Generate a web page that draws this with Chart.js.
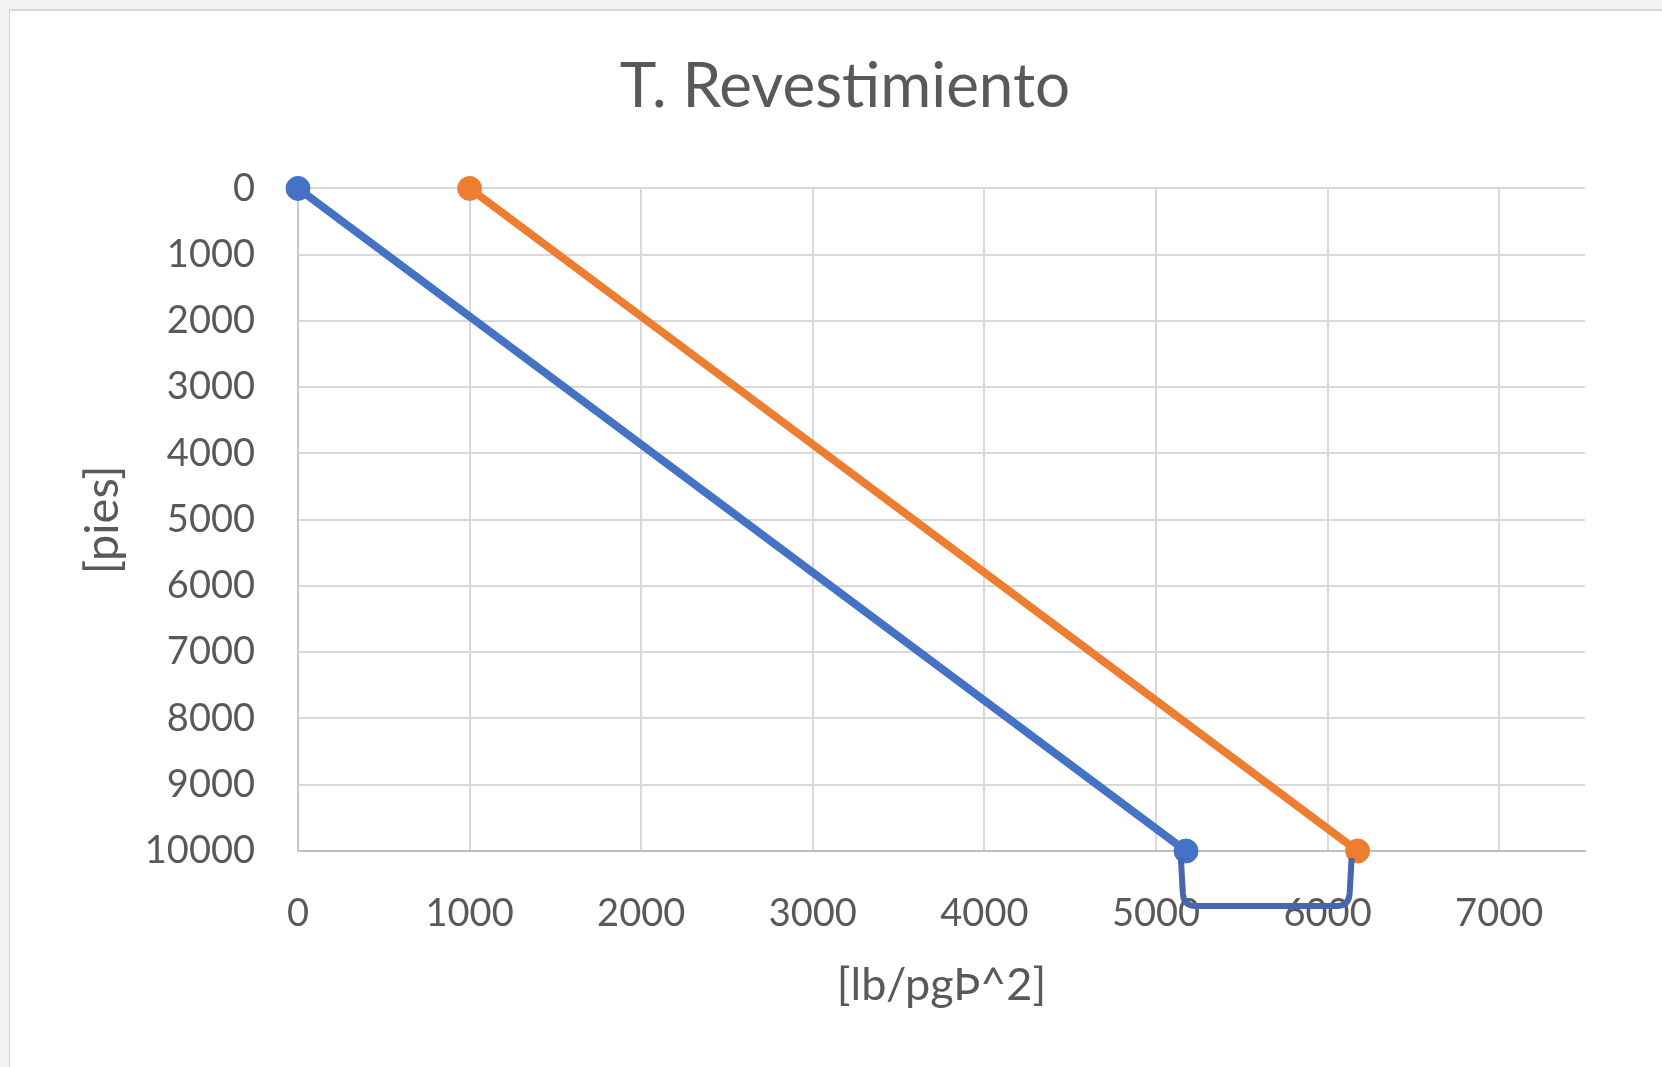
<!DOCTYPE html>
<html>
<head>
<meta charset="utf-8">
<script src="https://cdn.jsdelivr.net/npm/chart.js@4.4.1/dist/chart.umd.min.js"></script>
<style>
  body { margin: 0; background: #f2f2f2; }
  #card { position: absolute; left: 9px; top: 9px; width: 1700px; height: 1100px; background: #fff; border-left: 1px solid #d6d6d6; border-top: 2px solid #d6d6d6; }
  #myChart { position: absolute; left: 0; top: 0; }
</style>
</head>
<body>
<div id="card"></div>
<canvas id="myChart" width="1662" height="1067"></canvas>
<script>
const titulo = 'T. Revestimiento';
const ejeX = '[lb/pgÞ^2]';
const ejeY = '[pies]';

const profundidad = [0, 10000];
const presionAzul = [0, 5175];
const presionNaranja = [1000, 6175];

const xTicks = [0, 1000, 2000, 3000, 4000, 5000, 6000, 7000];
const xMax = 7500;
const yTicks = [0, 1000, 2000, 3000, 4000, 5000, 6000, 7000, 8000, 9000, 10000];

// llave dibujada a mano bajo el eje (de 5145 a 6140)
const llaveX = [5145, 6140];

const fuente = 'Lato, "Open Sans", sans-serif';
const gris = '#595959';

const llavePlugin = {
  id: 'llave',
  afterDatasetsDraw(chart) {
    const ctx = chart.ctx;
    const x = chart.scales.x;
    const l = x.getPixelForValue(llaveX[0]);
    const r = x.getPixelForValue(llaveX[1]);
    const t = chart.chartArea.bottom + 7;
    const b = chart.chartArea.bottom + 55;
    ctx.save();
    ctx.strokeStyle = '#4666b0';
    ctx.lineWidth = 6;
    ctx.lineJoin = 'round';
    ctx.beginPath();
    ctx.moveTo(l, t);
    ctx.lineTo(l + 2, b - 12);
    ctx.quadraticCurveTo(l + 3, b, l + 15, b);
    ctx.lineTo(r - 15, b);
    ctx.quadraticCurveTo(r - 3, b, r - 2, b - 12);
    ctx.lineTo(r, t);
    ctx.stroke();
    ctx.restore();
  }
};

function serie(xs, color) {
  return {
    data: xs.map((v, i) => ({ x: v, y: profundidad[i] })),
    borderColor: color,
    backgroundColor: color,
    borderWidth: 8,
    pointRadius: 12,
    pointBorderWidth: 1,
    showLine: true,
    clip: false
  };
}

const ctx = document.getElementById('myChart').getContext('2d');
new Chart(ctx, {
  type: 'scatter',
  data: { datasets: [serie(presionAzul, '#4472c4'), serie(presionNaranja, '#ed7d31')] },
  plugins: [llavePlugin],
  options: {
    responsive: false,
    animation: false,
    layout: { padding: { left: 28, right: 0, top: 0, bottom: 0 } },
    plugins: {
      legend: { display: false },
      tooltip: { enabled: false },
      title: {
        display: true,
        text: titulo,
        color: gris,
        font: { family: fuente, size: 62, weight: 'normal' },
        padding: { top: 50, bottom: 64 }
      }
    },
    scales: {
      x: {
        type: 'linear',
        min: 0,
        max: xMax,
        afterBuildTicks: s => { s.ticks = xTicks.map(v => ({ value: v })); },
        afterFit: s => { s.height = 216; },
        grid: { color: '#d9d9d9', lineWidth: 2, drawTicks: false },
        border: { color: '#bfbfbf', width: 2 },
        ticks: { color: gris, font: { family: fuente, size: 38 }, padding: 40, maxRotation: 0, callback: v => String(v) },
        title: { display: true, text: ejeX, color: gris, font: { family: fuente, size: 45 }, padding: { top: 55, bottom: 55 } }
      },
      y: {
        type: 'linear',
        reverse: true,
        min: 0,
        max: 10000,
        afterBuildTicks: s => { s.ticks = yTicks.map(v => ({ value: v })); },
        afterFit: s => { s.width = 270; },
        grid: { color: '#d9d9d9', lineWidth: 2, drawTicks: false },
        border: { color: '#c8c8c8', width: 2 },
        ticks: { color: gris, font: { family: fuente, size: 38 }, padding: 43, callback: v => String(v) },
        title: { display: true, text: ejeY, color: gris, font: { family: fuente, size: 47 }, padding: { top: 47, bottom: 47 } }
      },
      derecha: {
        type: 'linear',
        position: 'right',
        afterFit: s => { s.width = 77; },
        grid: { display: false },
        border: { display: false },
        ticks: { display: false }
      }
    }
  }
});
</script>
</body>
</html>
